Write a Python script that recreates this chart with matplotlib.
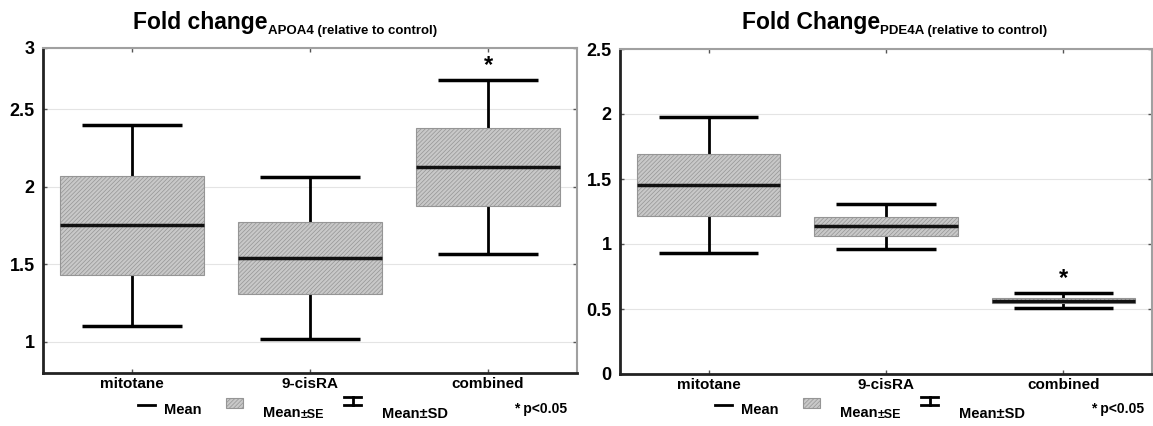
import matplotlib
matplotlib.use('Agg')
import matplotlib.pyplot as plt
from matplotlib.patches import Rectangle
from matplotlib.lines import Line2D

plt.rcParams['font.family'] = ['Liberation Sans', 'DejaVu Sans']
plt.rcParams['font.weight'] = 'bold'
plt.rcParams['hatch.linewidth'] = 0.5

groups = ['mitotane', '9-cisRA', 'combined']

# APOA4 fold change
apoa4_mean = [1.75, 1.54, 2.125]
apoa4_se = [0.32, 0.23, 0.25]
apoa4_sd = [0.65, 0.52, 0.56]
apoa4_sig = [False, False, True]

# PDE4A fold change
pde4a_mean = [1.455, 1.135, 0.565]
pde4a_se = [0.237, 0.07, 0.02]
pde4a_sd = [0.525, 0.17, 0.06]
pde4a_sig = [False, False, True]

W, H = 1153, 426
fig = plt.figure(figsize=(W / 100, H / 100), dpi=100)

box_face = '#c8c8c8'
box_edge = '#959595'


def px_axes(left, top, width, height):
    return fig.add_axes([left / W, (H - top - height) / H, width / W, height / H])


def draw_panel(ax, mean, se, sd, sig, ylim, yticks, yticklabels):
    x = list(range(len(groups)))
    lo_sd = [m - s for m, s in zip(mean, sd)]
    hi_sd = [m + s for m, s in zip(mean, sd)]
    # whiskers (SD)
    ax.vlines(x, lo_sd, hi_sd, color='black', lw=2, zorder=2)
    ax.hlines(lo_sd, [i - 0.28 for i in x], [i + 0.28 for i in x], color='black', lw=2.5, zorder=2)
    ax.hlines(hi_sd, [i - 0.28 for i in x], [i + 0.28 for i in x], color='black', lw=2.5, zorder=2)
    # boxes (SE)
    ax.bar(x, [2 * s for s in se], bottom=[m - s for m, s in zip(mean, se)], width=0.81,
           facecolor=box_face, edgecolor=box_edge, hatch='////////', lw=0.8, zorder=3)
    # mean lines
    ax.hlines(mean, [i - 0.405 for i in x], [i + 0.405 for i in x], color='#111111', lw=2.5, zorder=4)
    span = ylim[1] - ylim[0]
    for i in x:
        if sig[i]:
            ax.text(i, hi_sd[i] + 0.045 * span, '*', ha='center', va='center',
                    fontsize=17, fontweight='bold')

    ax.set_xlim(-0.5, 2.5)
    ax.set_ylim(*ylim)
    ax.set_xticks(x)
    ax.set_xticklabels(groups, fontsize=11, fontweight='bold')
    ax.set_yticks(yticks)
    ax.set_yticklabels(yticklabels, fontsize=13, fontweight='bold')
    ax.tick_params(direction='in', top=True, right=True, length=3, width=1, color='#555555', pad=6)
    ax.tick_params(axis='x', pad=3)
    ax.yaxis.grid(True, color='#e4e4e4', lw=0.8)
    ax.set_axisbelow(True)
    for side in ['left', 'bottom']:
        ax.spines[side].set_linewidth(2)
        ax.spines[side].set_color('#222222')
    for side in ['top', 'right']:
        ax.spines[side].set_linewidth(1.5)
        ax.spines[side].set_color('#a0a0a0')


def add_title(ax, main, sub, y_px, x_center_px):
    t1 = fig.text(0, 1 - y_px / H, main, fontsize=16.5, fontweight='bold', va='baseline', ha='left')
    t2 = fig.text(0, 1 - (y_px + 5) / H, sub, fontsize=9.5, fontweight='bold', va='baseline', ha='left')
    fig.canvas.draw()
    r = fig.canvas.get_renderer()
    w1 = t1.get_window_extent(r).width
    w2 = t2.get_window_extent(r).width
    start = x_center_px - (w1 + w2) / 2
    t1.set_x(start / W)
    t2.set_x((start + w1) / W)


def add_key(ax, ax_left, ax_bottom, ax_w, ax_h):
    def fx(px):
        return px / ax_w

    def fy(py):
        return (ax_bottom - py) / ax_h

    kw = dict(transform=ax.transAxes, clip_on=False)
    ax.add_line(Line2D([fx(95), fx(112)], [fy(405), fy(405)], color='black', lw=2, **kw))
    ax.text(fx(121), fy(410), 'Mean', fontsize=10.5, va='center', ha='left', **kw)
    ax.add_patch(Rectangle((fx(183), fy(408)), fx(17), 10 / ax_h, facecolor=box_face,
                           edgecolor=box_edge, hatch='////////', lw=0.8, **kw))
    ax.text(fx(220), fy(413), 'Mean', fontsize=10.5, va='center', ha='left', **kw)
    ax.text(fx(258), fy(415), '±SE', fontsize=9, va='center', ha='left', **kw)
    ax.add_line(Line2D([fx(301), fx(318)], [fy(397), fy(397)], color='black', lw=2, **kw))
    ax.add_line(Line2D([fx(301), fx(318)], [fy(405), fy(405)], color='black', lw=2, **kw))
    ax.add_line(Line2D([fx(309.5), fx(309.5)], [fy(397), fy(405)], color='black', lw=2, **kw))
    ax.text(fx(339), fy(414), 'Mean±SD', fontsize=10.5, va='center', ha='left', **kw)
    ax.text(fx(471), fy(409), '* p<0.05', fontsize=10, va='center', ha='left', **kw)


# left panel: APOA4
ax1 = px_axes(43, 48, 534, 325)
apoa4_top = 2.893
draw_panel(ax1, apoa4_mean, apoa4_se, apoa4_sd, apoa4_sig, (0.8, apoa4_top),
           [1, 1.5, 2, 2.5, apoa4_top], ['1', '1.5', '2', '2.5', '3'])
add_key(ax1, 43, 373, 534, 325)

# right panel: PDE4A
ax2 = px_axes(620, 49, 532, 325)
draw_panel(ax2, pde4a_mean, pde4a_se, pde4a_sd, pde4a_sig, (0, 2.5),
           [0, 0.5, 1, 1.5, 2, 2.5], ['0', '0.5', '1', '1.5', '2', '2.5'])
add_key(ax2, 620, 374, 532, 325)

add_title(ax1, 'Fold change', 'APOA4 (relative to control)', 29, 285)
add_title(ax2, 'Fold Change', 'PDE4A (relative to control)', 29, 895)

fig.savefig('out.png', dpi=100)
